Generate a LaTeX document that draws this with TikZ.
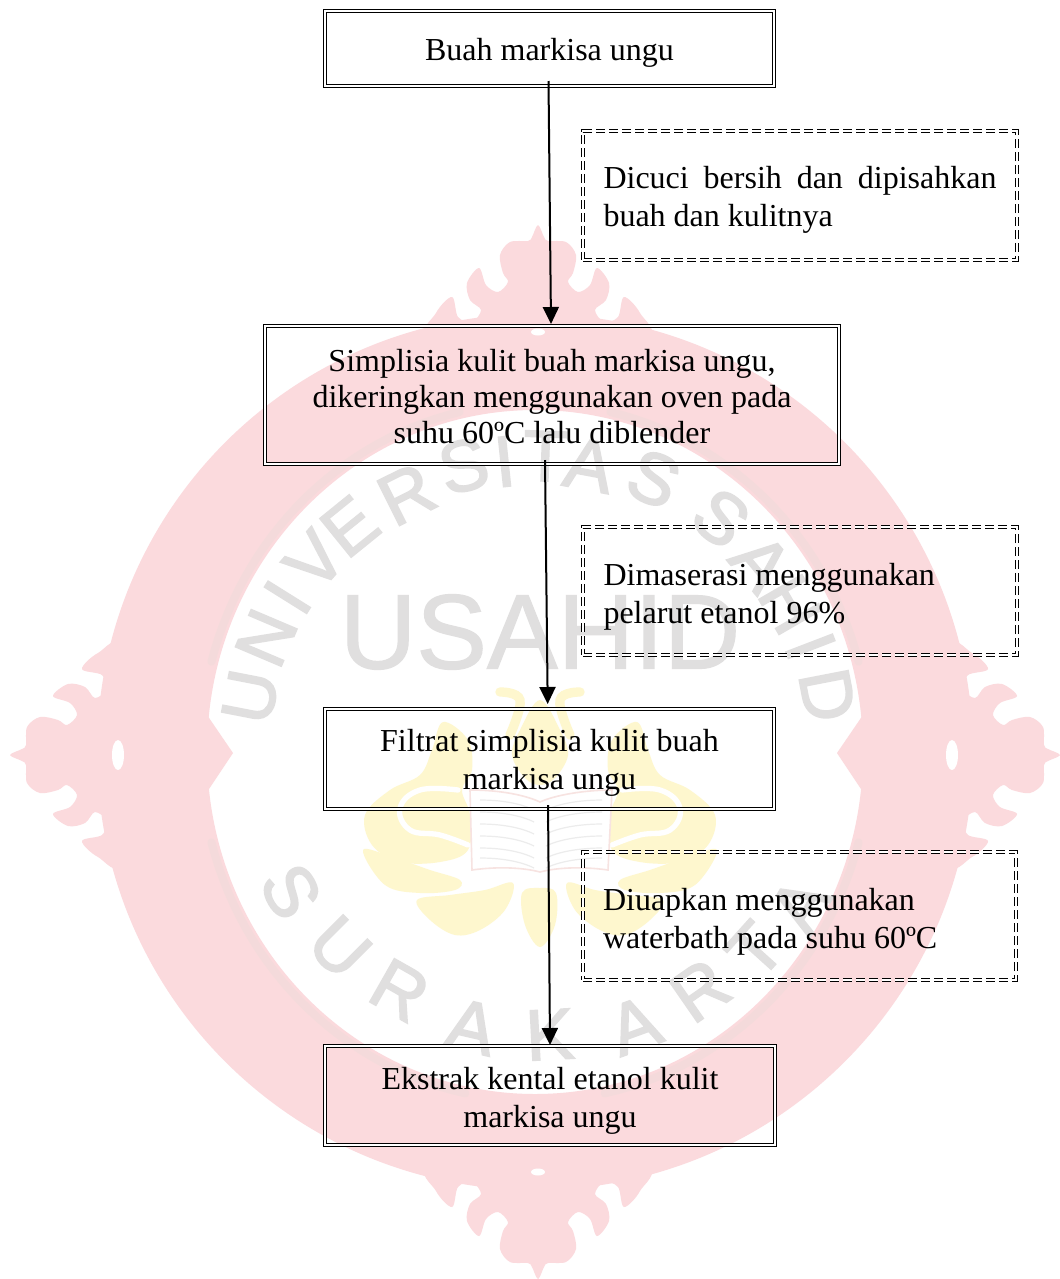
\documentclass[tikz,border=0pt]{standalone}
\usepackage{fontspec}
\setmainfont{Liberation Serif}
\newfontfamily\wmfont[FakeBold=2.4]{Liberation Sans}
\newfontfamily\wmcfont[FakeBold=1.2]{Liberation Sans}
\usetikzlibrary{arrows.meta}
\definecolor{wmpink}{HTML}{FBDADD}
\definecolor{wmshade}{HTML}{F4DADB}
\definecolor{wmgrey}{HTML}{E0DFDF}
\definecolor{wmyellow}{HTML}{FEF7CE}
\definecolor{wmbook}{HTML}{F7E3E1}
\tikzset{
  flowbox/.style={draw=black,line width=0.8pt,double=white,double distance=1pt,
    inner sep=0pt,outer sep=0pt,font=\fontsize{24}{28.5}\selectfont},
  notebox/.style={flowbox,dash pattern=on 7pt off 2.75pt},
  flowarrow/.style={line width=1.5pt,-{Triangle[length=12.75pt,width=12pt]}},
  wmletter/.style={text=wmgrey,inner sep=0pt,font=\wmfont\fontsize{54}{54}\selectfont},
}
\newcommand{\midtext}[3]{\raisebox{-#1}[\height][\depth]{\parbox{#2}{\centering #3}}}
\newcommand{\sidetext}[2]{\raisebox{-#1}[\height][\depth]{\parbox{294.75pt}{#2}}}
\newcommand{\flameshape}{%
  plot[smooth cycle,tension=.55] coordinates {(0,0)(6,12)(10,16)(28,17)(38,30)(35,48)(30,57)(40,67)(52,60)(59,43)(71,58)(68,75)(57,85)(66,97)(80,92)(86,72)(102,88)(108,115)
  (0,140)
  (-108,115)(-102,88)(-86,72)(-80,92)(-66,97)(-57,85)(-68,75)(-71,58)(-59,43)(-52,60)(-40,67)(-30,57)(-35,48)(-38,30)(-28,17)(-10,16)(-6,12)}}
\begin{document}
\begin{tikzpicture}[x=0.75pt,y=-0.75pt]
\useasboundingbox (0,0) rectangle (1060,1279);
\fill[white] (0,0) rectangle (1060,1279);
% watermark ring
\fill[wmpink,even odd rule] (535,752) circle [radius=438] (535,752) ellipse [x radius=328,y radius=342];
\foreach \a/\b in {103/165,15/77,195/258,282/345}
  \draw[wmshade,line width=6pt,line cap=round] plot[domain=\a:\b,samples=30] ({535+335*cos(\x)},{752-349*sin(\x)});
\fill[wmpink] (205,712) -- (233,753) -- (205,795) -- cycle;
\fill[wmpink] (865,712) -- (837,753) -- (865,795) -- cycle;
\begin{scope}[shift={(538,225)}]
  \fill[wmpink] \flameshape; \fill[white] (0,107) ellipse [x radius=7,y radius=3.5];
\end{scope}
\begin{scope}[shift={(538,1279)},rotate=180]
  \fill[wmpink] \flameshape; \fill[white] (0,107) ellipse [x radius=7,y radius=3.5];
\end{scope}
\begin{scope}[shift={(10,755)},rotate=90]
  \fill[wmpink] \flameshape; \fill[white] (0,108) ellipse [x radius=15,y radius=6];
\end{scope}
\begin{scope}[shift={(1060,755)},rotate=-90]
  \fill[wmpink] \flameshape; \fill[white] (0,108) ellipse [x radius=15,y radius=6];
\end{scope}
% watermark emblem
\fill[wmyellow] plot[smooth cycle,tension=.6] coordinates {(540,700)(560,730)(568,755)(555,778)(540,785)(525,778)(512,755)(520,730)};
\foreach \m in {1,-1}{
\begin{scope}[shift={(540,0)},xscale=\m,shift={(-540,0)}]
  \draw[wmyellow,line width=7pt,line cap=round] plot[smooth,tension=.7] coordinates {(500,692)(520,700)(510,735)};
  \fill[wmyellow] plot[smooth cycle,tension=.6] coordinates {(443,722)(468,740)(472,770)(462,790)(470,815)(468,850)(440,862)(400,862)(372,845)(365,815)(390,790)(420,775)(432,750)};
  \draw[white,line width=4pt,line cap=round] plot[smooth,tension=.7] coordinates {(458,790)(420,790)(400,808)(410,830)(440,835)(468,845)};
  \fill[wmyellow] plot[smooth cycle,tension=.6] coordinates {(363,850)(395,858)(430,870)(460,880)(455,890)(420,893)(385,885)};
  \fill[wmyellow] plot[smooth cycle,tension=.6] coordinates {(417,900)(450,895)(485,890)(513,883)(505,910)(480,930)(455,935)(430,920)};
\end{scope}}
\fill[wmyellow] plot[smooth cycle,tension=.6] coordinates {(522,893)(540,888)(556,893)(555,925)(540,947)(525,925)};
% watermark book
\draw[wmbook,line width=1.2pt,fill=white] (470,790) .. controls (500,790) and (525,795) .. (540,802) .. controls (555,795) and (585,790) .. (612,790) -- (608,870) .. controls (580,866) and (555,868) .. (540,872) .. controls (525,868) and (500,866) .. (472,870) -- cycle;
\foreach \y in {800,812,824,836,848,858}{
  \draw[wmgrey!60,line width=0.9pt] (480,\y) .. controls (500,\y) and (520,\y+3) .. (534,\y+10);
  \draw[wmgrey!60,line width=0.9pt] (602,\y) .. controls (582,\y) and (560,\y+3) .. (546,\y+10);
}
% watermark text
\node[text=wmgrey,inner sep=0pt,font=\wmcfont\fontsize{79.5}{80}\selectfont] (wmcentre) at (540,632) {USAHID};
\foreach \l/\t/\r/\o [count=\i] in {U/169/290/79,N/157/292/67,I/148/292/58,V/139/292/49,E/129.4/292/39,R/116.5/288/26.5,S/104/295/14,I/96/292/6,T/88/296/-2,A/79.3/292/-10.7,S/66.5/298/-23.5,S/51.5/299/-38.5,A/40/295/-50,H/30/295/-60,I/21/295/-69,D/11/298/-79,
  S/209.7/281/-60.3,U/225/276/-45,R/240.4/274/-29.6,A/257/282/-13,K/273/283/3,A/290/291/20,R/304.7/290/34.7,T/318/296/48,A/330/306/60}
  \node[wmletter,rotate=\o] (wmarc\i) at ({535+\r*cos(\t)},{752-\r*sin(\t)}) {\l};
% flow boxes
\node[flowbox,minimum width=449*0.75pt,minimum height=75*0.75pt] (buah) at (549.5,48.5) {\midtext{3pt}{320pt}{Buah markisa ungu}};
\node[flowbox,minimum width=574*0.75pt,minimum height=138*0.75pt] (simplisia) at (552,395) {\midtext{1.5pt}{410pt}{\fontsize{24}{27}\selectfont Simplisia kulit buah markisa ungu,\\dikeringkan menggunakan oven pada\\suhu 60ºC lalu diblender}};
\node[flowbox,minimum width=449*0.75pt,minimum height=100*0.75pt] (filtrat) at (549.5,759) {\midtext{3pt}{320pt}{Filtrat simplisia kulit buah\\markisa ungu}};
\node[flowbox,minimum width=450*0.75pt,minimum height=99*0.75pt] (ekstrak) at (550,1095.5) {\midtext{4pt}{320pt}{Ekstrak kental etanol kulit\\markisa ungu}};
% note boxes
\node[notebox,minimum width=434*0.75pt,minimum height=129*0.75pt] (cuci) at (800,195.5) {\sidetext{3pt}{Dicuci bersih dan dipisahkan buah dan kulitnya}};
\node[notebox,minimum width=434*0.75pt,minimum height=128*0.75pt] (maserasi) at (800,591) {\sidetext{4pt}{\raggedright Dimaserasi menggunakan\\pelarut etanol 96\%}};
\node[notebox,minimum width=433*0.75pt,minimum height=128*0.75pt] (uapkan) at (799.5,916) {\sidetext{4pt}{\raggedright Diuapkan menggunakan\\waterbath pada suhu 60ºC}};
% connectors
\draw[flowarrow] ([xshift=-0.75pt,yshift=3.75pt]buah.south) -- ([xshift=-0.75pt,yshift=1.5pt]simplisia.north);
\draw[flowarrow] ([xshift=-5.25pt,yshift=3pt]simplisia.south) -- ([xshift=-1.35pt,yshift=3.75pt]filtrat.north);
\draw[flowarrow] ([xshift=-1.1pt,yshift=3pt]filtrat.south) -- ([yshift=0.75pt]ekstrak.north);
\end{tikzpicture}
\end{document}
